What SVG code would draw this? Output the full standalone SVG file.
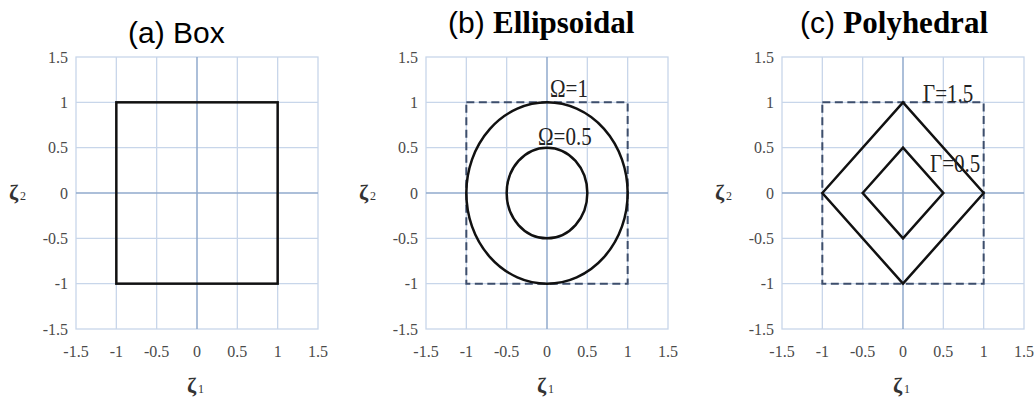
<svg xmlns="http://www.w3.org/2000/svg" xmlns:xlink="http://www.w3.org/1999/xlink" width="1035" height="398" viewBox="0 0 1035 398">
<style>
.grid{stroke:#c8d6ea;stroke-width:1.3;fill:none}
.axis{stroke:#91abcd;stroke-width:1.5;fill:none}
.shape{stroke:#111;stroke-width:2.5;fill:none}
.dash{stroke:#3d4e6c;stroke-width:2;fill:none;stroke-dasharray:8 4.5}
.zeta{font-family:"Liberation Serif",serif;font-size:22px;fill:#333;font-weight:bold}
.sub{font-size:12px;font-weight:normal}
.lab{font-family:"Liberation Serif",serif;font-size:21px;fill:#222}
.title{font-size:30px;fill:#000}
.sans{font-family:"Liberation Sans",Arial,sans-serif}
.serifb{font-family:"Liberation Serif",serif;font-weight:bold;font-size:31px}
</style>
<defs>
<g id="plotgrid">
<rect x="0" y="0" width="242" height="272" class="grid"/>
<path class="grid" d="M40.33,0V272M80.67,0V272M161.33,0V272M201.67,0V272M0,45.33H242M0,90.67H242M0,181.33H242M0,226.67H242"/>
<path class="axis" d="M121,0V272M0,136H242"/>
<g font-family="'Liberation Serif', serif" font-size="16" fill="#4a4a4a" text-anchor="end">
<text x="-8" y="5.5">1.5</text>
<text x="-8" y="50.8">1</text>
<text x="-8" y="96.2">0.5</text>
<text x="-8" y="141.5">0</text>
<text x="-8" y="186.8">-0.5</text>
<text x="-8" y="232.2">-1</text>
<text x="-8" y="277.5">-1.5</text>
</g>
<g font-family="'Liberation Serif', serif" font-size="16" fill="#4a4a4a" text-anchor="middle">
<text x="0" y="300">-1.5</text>
<text x="40.33" y="300">-1</text>
<text x="80.67" y="300">-0.5</text>
<text x="121" y="300">0</text>
<text x="161.33" y="300">0.5</text>
<text x="201.67" y="300">1</text>
<text x="242" y="300">1.5</text>
</g>
<text class="zeta" x="111" y="336">ζ<tspan class="sub" dx="2">1</tspan></text>
<text class="zeta" x="-67" y="143">ζ<tspan class="sub" dx="2">2</tspan></text>
</g>
</defs>

<g id="panel-a" transform="translate(76,57)">
<use xlink:href="#plotgrid" href="#plotgrid"/>
<rect class="shape" x="40.33" y="45.33" width="161.33" height="181.33"/>
</g>
<text id="title-a" class="title sans" x="128" y="43">(a) Box</text>

<g id="panel-b" transform="translate(426,57)">
<use xlink:href="#plotgrid" href="#plotgrid"/>
<rect class="dash" x="40.33" y="45.33" width="161.33" height="181.33"/>
<ellipse class="shape" cx="121" cy="136" rx="80.67" ry="90.67"/>
<ellipse class="shape" cx="121" cy="136" rx="40.33" ry="45.33"/>
<text class="lab" transform="translate(124,40) scale(1,1.15)">Ω=1</text>
<text class="lab" transform="translate(112,88) scale(1,1.15)">Ω=0.5</text>
</g>
<text id="title-b" class="title" x="448" y="33"><tspan class="sans">(b) </tspan><tspan class="serifb">Ellipsoidal</tspan></text>

<g id="panel-c" transform="translate(782,57)">
<use xlink:href="#plotgrid" href="#plotgrid"/>
<rect class="dash" x="40.33" y="45.33" width="161.33" height="181.33"/>
<polygon class="shape" points="40.33,136 121,45.33 201.67,136 121,226.67"/>
<polygon class="shape" points="80.67,136 121,90.67 161.33,136 121,181.33"/>
<text class="lab" transform="translate(141,45) scale(1,1.15)">Γ=1.5</text>
<text class="lab" transform="translate(148,115) scale(1,1.15)">Γ=0.5</text>
</g>
<text id="title-c" class="title" x="800" y="33"><tspan class="sans">(c) </tspan><tspan class="serifb">Polyhedral</tspan></text>

<g id="connectors"/>
</svg>
